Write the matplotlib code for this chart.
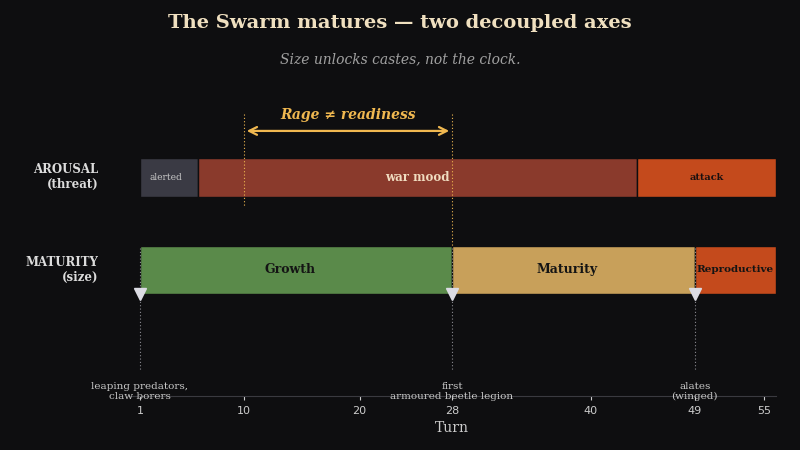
import matplotlib
matplotlib.use("Agg")
import matplotlib.pyplot as plt
import matplotlib.transforms as mtransforms

# ---- data ----
arousal_labels = ["alerted", "war mood", "attack"]
arousal_starts = [1, 6, 44]
arousal_ends = [6, 44, 56]
maturity_labels = ["Growth", "Maturity", "Reproductive"]
maturity_starts = [1, 28, 49]
maturity_ends = [28, 49, 56]
milestone_turns = [1, 28, 49]
milestone_labels = ["leaping predators,\nclaw borers", "first\narmoured beetle legion", "alates\n(winged)"]
tick_turns = [1, 10, 20, 28, 40, 49, 55]
rage_start, rage_end = 10, 28

BG = "#0e0e10"
arousal_colors = ["#3a3a44", "#8a3a2c", "#c44a1c"]
arousal_text_colors = ["#c8c8c8", "#f0dcc0", "#1a1010"]
arousal_text_sizes = [6.5, 8.5, 7]
maturity_colors = ["#5a8a4a", "#c8a05a", "#c44a1c"]
maturity_text_colors = ["#141414", "#141414", "#141414"]
maturity_text_sizes = [9, 9, 7.5]
maturity_label_shift = [-0.5, -0.5, 0.0]
arousal_label_shift = [-0.25, 0.0, 0.0]
GOLD = "#f0b850"

plt.rcParams['font.family'] = ['DejaVu Serif']
fig = plt.figure(figsize=(8, 4.5), dpi=100, facecolor=BG)
ax = fig.add_axes([0.1605, 0.12, 0.809, 0.6578])
ax.set_facecolor(BG)
ax.set_xlim(0, 56)
ax.set_ylim(-1.368, 1.838)

Y_AR, Y_MAT = 1.0, 0.0
H_AR, H_MAT = 0.42, 0.52

for s, e, c, lab, tc, fs, sh in zip(arousal_starts, arousal_ends, arousal_colors,
                                    arousal_labels, arousal_text_colors, arousal_text_sizes,
                                    arousal_label_shift):
    ax.barh(Y_AR, e - s, left=s, height=H_AR, color=c, edgecolor=BG, linewidth=1.0, zorder=2)
    ax.text((s + e) / 2 + sh, Y_AR, lab, ha="center", va="center", color=tc, fontsize=fs,
            fontweight="normal" if lab == "alerted" else "bold", zorder=5)

for s, e, c, lab, tc, fs, sh in zip(maturity_starts, maturity_ends, maturity_colors,
                                    maturity_labels, maturity_text_colors, maturity_text_sizes,
                                    maturity_label_shift):
    ax.barh(Y_MAT, e - s, left=s, height=H_MAT, color=c, edgecolor=BG, linewidth=1.0, zorder=2)
    ax.text((s + e) / 2 + sh, Y_MAT, lab, ha="center", va="center", color=tc, fontsize=fs,
            fontweight="bold", zorder=5)

# milestones
for t, lab in zip(milestone_turns, milestone_labels):
    ax.plot([t, t], [0.24, -1.1], ls=(0, (1, 2)), color="#8a8a90", lw=0.8, zorder=3)
    ax.plot([t], [-0.265], marker="v", markersize=9, color="#dcdce4", zorder=6, clip_on=False)
    ax.text(t, -1.318, lab, ha="center", va="center", color="#c8c8c8", fontsize=7.5,
            linespacing=1.2, zorder=6)

# rage vs readiness
ax.plot([rage_start, rage_start], [1.686, 0.69], ls=(0, (1, 2)), color=GOLD, lw=0.8, zorder=4)
ax.plot([rage_end, rage_end], [1.686, 0.245], ls=(0, (1, 2)), color=GOLD, lw=0.8, zorder=4)
ax.annotate("", xy=(rage_end, 1.503), xytext=(rage_start, 1.503),
            arrowprops=dict(arrowstyle="<->", color=GOLD, lw=1.6, mutation_scale=14), zorder=5)
ax.text((rage_start + rage_end) / 2, 1.675, "Rage \u2260 readiness", ha="center", va="center",
        color=GOLD, fontsize=10, fontweight="bold", fontstyle="italic")

# row labels
trans = mtransforms.blended_transform_factory(ax.transAxes, ax.transData)
ax.text(-0.046, Y_AR, "AROUSAL\n(threat)", transform=trans, ha="right", va="center",
        color="#dcdcdc", fontsize=8.5, fontweight="bold", linespacing=1.2)
ax.text(-0.046, Y_MAT, "MATURITY\n(size)", transform=trans, ha="right", va="center",
        color="#dcdcdc", fontsize=8.5, fontweight="bold", linespacing=1.2)

# axes styling
for sp in ["top", "right", "left"]:
    ax.spines[sp].set_visible(False)
ax.spines["bottom"].set_color("#3a3a40")
ax.spines["bottom"].set_linewidth(0.8)
ax.set_yticks([])
ax.set_xticks(tick_turns)
ax.set_xticklabels([str(t) for t in tick_turns], family="DejaVu Sans")
ax.tick_params(axis="x", colors="#cccccc", labelsize=8, length=3, width=0.8, pad=4)
ax.set_xlabel("Turn", color="#cccccc", fontsize=10, labelpad=4)

fig.text(0.5, 0.949, "The Swarm matures \u2014 two decoupled axes", ha="center", va="center",
         color="#f0e0c0", fontsize=14, fontweight="bold")
fig.text(0.5, 0.868, "Size unlocks castes, not the clock.", ha="center", va="center",
         color="#a0a0a0", fontsize=10, fontstyle="italic")

fig.savefig("out.png", dpi=100, facecolor=BG)
